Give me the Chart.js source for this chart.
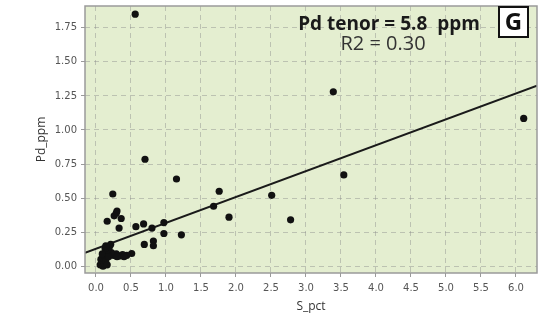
<!DOCTYPE html>
<html>
<head>
<meta charset="utf-8">
<script src="https://cdn.jsdelivr.net/npm/chart.js@4.4.0/dist/chart.umd.min.js"></script>
<style>
  html, body { margin: 0; padding: 0; background: #fff; }
  #wrap { width: 549px; height: 316px; }
</style>
</head>
<body>
<div id="wrap"><canvas id="scatterChart" width="549" height="316"></canvas></div>
<script>
// values
const sPct = [0.56, 3.39, 6.11, 0.70, 1.15, 3.54, 1.76, 2.51, 1.68, 1.90, 2.78, 0.97, 0.97, 1.22, 0.80,
    0.24, 0.30, 0.29, 0.26, 0.36, 0.16, 0.33, 0.57, 0.68, 0.69, 0.82, 0.82, 0.51,
    0.44, 0.38, 0.33, 0.29, 0.25, 0.22, 0.40, 0.30,
    0.06, 0.08, 0.10, 0.12, 0.07, 0.10, 0.14, 0.16, 0.12, 0.15, 0.17, 0.19, 0.21, 0.13, 0.09, 0.18, 0.14];
const pdPpm = [1.85, 1.28, 1.085, 0.785, 0.64, 0.67, 0.55, 0.52, 0.44, 0.36, 0.34, 0.32, 0.24, 0.23, 0.28,
    0.53, 0.405, 0.39, 0.37, 0.35, 0.33, 0.28, 0.29, 0.31, 0.16, 0.185, 0.15, 0.093,
    0.08, 0.085, 0.075, 0.09, 0.08, 0.10, 0.07, 0.07,
    0.01, 0.03, 0.0, 0.02, 0.05, 0.06, 0.04, 0.01, 0.08, 0.10, 0.12, 0.14, 0.16, 0.13, 0.09, 0.07, 0.15];

// fitted line end points
const trendX = [-0.157, 6.3];
const trendY = [0.098, 1.325];

const xTicks = [0, 0.5, 1, 1.5, 2, 2.5, 3, 3.5, 4, 4.5, 5, 5.5, 6];
const yTicks = [0, 0.25, 0.5, 0.75, 1, 1.25, 1.5, 1.75];

const titleText = 'Pd tenor = 5.8  ppm';
const r2Text = 'R2 = 0.30';
const panelLetter = 'G';

// green plot background and full frame
const plotFrame = {
    id: 'plotFrame',
    beforeDraw(chart) {
        const a = chart.chartArea;
        const ctx = chart.ctx;
        ctx.save();
        ctx.fillStyle = '#e4eed0';
        ctx.fillRect(a.left, a.top, a.right - a.left, a.bottom - a.top);
        ctx.restore();
    },
    afterDraw(chart) {
        const a = chart.chartArea;
        const ctx = chart.ctx;
        ctx.save();
        ctx.strokeStyle = '#9a9a9a';
        ctx.lineWidth = 1.5;
        ctx.strokeRect(a.left, a.top, a.right - a.left, a.bottom - a.top);

        // annotation text
        ctx.fillStyle = '#1a1a1a';
        ctx.textAlign = 'center';
        ctx.textBaseline = 'middle';
        ctx.font = 'bold 19px "Open Sans"';
        ctx.fillText(titleText, 389, 25);
        ctx.fillStyle = '#333';
        ctx.font = '20px "Open Sans"';
        ctx.fillText(r2Text, 383, 44);

        // letter box
        ctx.fillStyle = '#fff';
        ctx.fillRect(499, 7, 29, 30);
        ctx.strokeStyle = '#111';
        ctx.lineWidth = 2;
        ctx.strokeRect(499, 7, 29, 30);
        ctx.fillStyle = '#111';
        ctx.font = 'bold 24px "Open Sans"';
        ctx.fillText(panelLetter, 513.5, 23);
        ctx.restore();
    }
};

const tickFont = { family: 'DejaVu Sans', size: 10 };
const gridStyle = {
    color: 'rgba(140,140,140,0.45)',
    tickColor: '#9a9a9a',
    tickLength: 4,
    tickBorderDash: []
};
const dashBorder = { display: false, dash: [5, 4] };

new Chart(document.getElementById('scatterChart'), {
    type: 'scatter',
    data: {
        datasets: [
            {
                label: 'samples',
                data: sPct.map((x, i) => ({ x: x, y: pdPpm[i] })),
                backgroundColor: '#111',
                borderColor: '#111',
                pointRadius: 3.6,
                pointBorderWidth: 0
            },
            {
                label: 'fit',
                type: 'line',
                data: trendX.map((x, i) => ({ x: x, y: trendY[i] })),
                borderColor: '#1a1a1a',
                borderWidth: 2.2,
                pointRadius: 0,
                fill: false
            }
        ]
    },
    plugins: [plotFrame],
    options: {
        responsive: false,
        animation: false,
        layout: { padding: { top: 6, right: 12, left: 0, bottom: 0 } },
        plugins: {
            legend: { display: false },
            tooltip: { enabled: false }
        },
        scales: {
            x: {
                type: 'linear',
                min: -0.157,
                max: 6.3,
                afterBuildTicks: s => { s.ticks = xTicks.map(v => ({ value: v })); },
                afterFit: s => { s.height = 43; },
                ticks: {
                    font: tickFont,
                    color: '#555',
                    padding: 5,
                    maxRotation: 0,
                    callback: v => Number(v).toFixed(1)
                },
                grid: gridStyle,
                border: dashBorder,
                title: {
                    display: true,
                    text: 'S_pct',
                    font: { family: 'Open Sans', size: 12 },
                    color: '#333',
                    padding: { top: 0, bottom: 2 }
                }
            },
            y: {
                type: 'linear',
                min: -0.05,
                max: 1.91,
                afterBuildTicks: s => { s.ticks = yTicks.map(v => ({ value: v })); },
                afterFit: s => {
                    s.width = 85;
                    s.paddingTop = 0;
                    s.paddingBottom = 0;
                },
                ticks: {
                    font: tickFont,
                    color: '#555',
                    padding: 4,
                    callback: v => Number(v).toFixed(2)
                },
                grid: gridStyle,
                border: dashBorder,
                title: {
                    display: true,
                    text: 'Pd_ppm',
                    font: { family: 'Open Sans', size: 12 },
                    color: '#333',
                    padding: { top: 34, bottom: 0 }
                }
            }
        }
    }
});
</script>
</body>
</html>
